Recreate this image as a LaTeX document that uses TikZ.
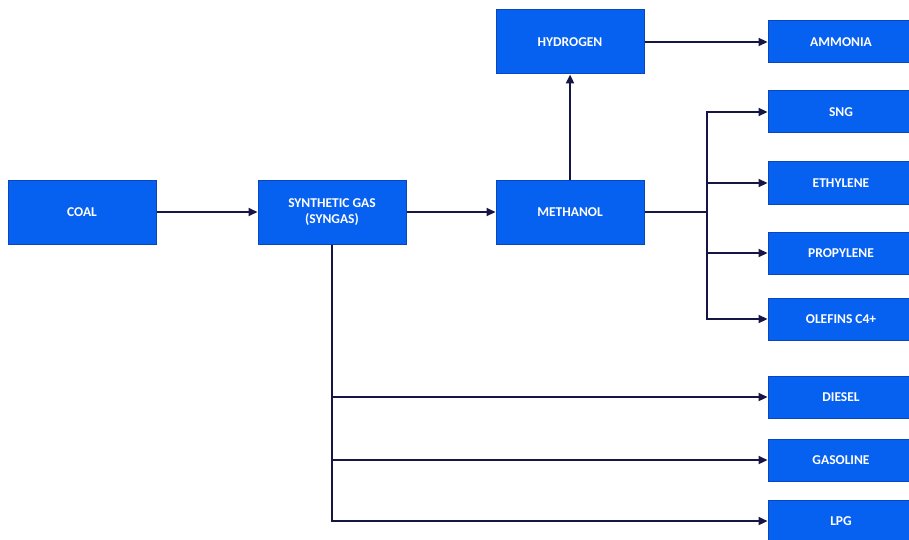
\documentclass[tikz,border=0pt]{standalone}
\usepackage{fontspec}
\setmainfont{Carlito}
\usetikzlibrary{arrows.meta,positioning}
\definecolor{boxBlue}{RGB}{6,96,240}
\definecolor{edgeBlue}{RGB}{10,70,190}
\definecolor{flowNavy}{RGB}{22,22,70}

\begin{document}
\begin{tikzpicture}[x=1pt,y=-1pt,
        stage/.style={fill=boxBlue,draw=edgeBlue,line width=1pt,text=white,
          font=\fontsize{13.5}{15.5}\selectfont\bfseries,align=center,
          minimum width=148pt,minimum height=64pt,inner sep=2pt},
        product/.style={stage,minimum width=146pt,minimum height=42pt},
        flow/.style={draw=flowNavy,line width=2.2pt,
          -{Triangle[length=9pt,width=8pt]}}
      ]
        \clip (0,0) rectangle (909,540);
        \fill[white] (0,0) rectangle (909,540);

        % Chaine principale
        \node[stage] (coal) at (82,212) {COAL};
        \node[stage] (syngas) at (332,212) {SYNTHETIC GAS\\(SYNGAS)};
        \node[stage] (methanol) at (570,212) {METHANOL};
        \node[stage] (hydrogen) at (570,42) {HYDROGEN};

        % Produits
        \node[product] (ammonia) at (841,42) {AMMONIA};
        \node[product] (sng) at (841,112) {SNG};
        \node[product] (ethylene) at (841,183) {ETHYLENE};
        \node[product] (propylene) at (841,253) {PROPYLENE};
        \node[product] (olefins) at (841,319) {OLEFINS C4+};
        \node[product] (diesel) at (841,397) {DIESEL};
        \node[product] (gasoline) at (841,460) {GASOLINE};
        \node[product] (lpg) at (841,521) {LPG};

        \coordinate (split) at (707,212);

        \draw[flow] (coal) -- (syngas);
        \draw[flow] (syngas) -- (methanol);
        \draw[flow] (methanol) -- (hydrogen);
        \draw[flow] (hydrogen) -- (ammonia);

        \draw[flowNavy,line width=2.2pt] (methanol.east) -- (split);
        \foreach \p in {sng,ethylene,propylene,olefins}
          \draw[flow] (split) |- (\p.west);

        \foreach \p in {diesel,gasoline,lpg}
          \draw[flow] (syngas.south) |- (\p.west);
      \end{tikzpicture}
\end{document}
